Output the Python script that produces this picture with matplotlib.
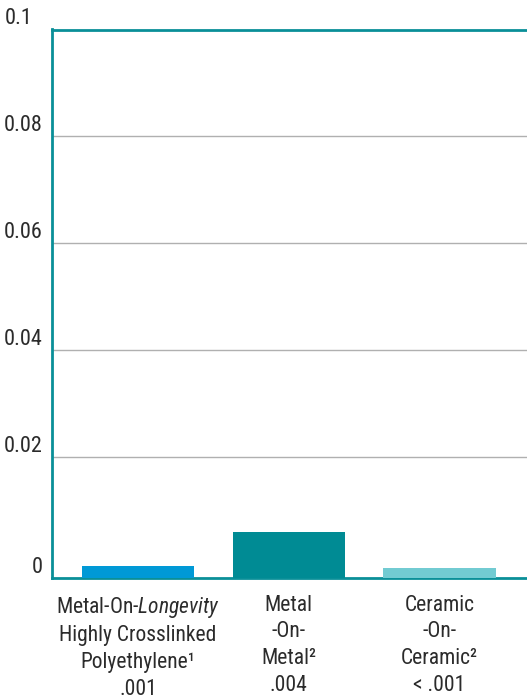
import matplotlib
matplotlib.use('Agg')
import matplotlib.pyplot as plt

TEAL = '#0a8f98'
TEXT_COLOR = '#2b2b2b'
FONT = ['Roboto Condensed', 'DejaVu Sans']

categories = [
    'Metal-On-$\\mathit{Longevity}$\nHighly Crosslinked\nPolyethylene\u00b9\n.001',
    'Metal\n-On-\nMetal\u00b2\n.004',
    'Ceramic\n-On-\nCeramic\u00b2\n< .001',
]
# bar heights measured from the bottom of the axis
values = [0.0022, 0.0086, 0.0019]
bar_colors = ['#0099d6', '#008b94', '#72cbd2']

y_min = -0.00265
y_ticks = [y_min, 0.02, 0.04, 0.06, 0.08, 0.1]
y_labels = ['0', '0.02', '0.04', '0.06', '0.08', '0.1']

plt.rcParams['font.family'] = FONT
plt.rcParams['mathtext.fontset'] = 'custom'
plt.rcParams['mathtext.rm'] = 'Roboto Condensed'
plt.rcParams['mathtext.it'] = 'Roboto Condensed:italic'


def make_graph():
    fig = plt.figure(figsize=(5.27, 6.97), dpi=100)
    ax = fig.add_axes([52 / 527, (697 - 578) / 697, 475 / 527, (578 - 29.5) / 697])

    x = range(len(values))
    ax.bar(x, values, width=0.744, bottom=y_min, color=bar_colors, zorder=3)

    ax.set_xlim(-0.571, 2.581)
    ax.set_ylim(y_min, 0.1)

    ax.set_yticks(y_ticks)
    ax.set_yticklabels(y_labels, fontsize=16, color=TEXT_COLOR, va='bottom')
    ax.set_xticks(list(x))
    ax.set_xticklabels(categories, fontsize=15.5, color=TEXT_COLOR, linespacing=1.36)
    ax.tick_params(axis='both', length=0)
    ax.tick_params(axis='y', pad=7)
    ax.tick_params(axis='x', pad=12)
    ax.get_yticklabels()[-1].set_x(-0.02)

    for y in y_ticks[1:-1]:
        ax.axhline(y, color='#b0b0b0', linewidth=1.0, zorder=1)

    for side in ['left', 'top', 'bottom']:
        ax.spines[side].set_color(TEAL)
        ax.spines[side].set_linewidth(2.0)
    ax.spines['right'].set_visible(False)

    fig.savefig('out.png', dpi=100)


make_graph()
